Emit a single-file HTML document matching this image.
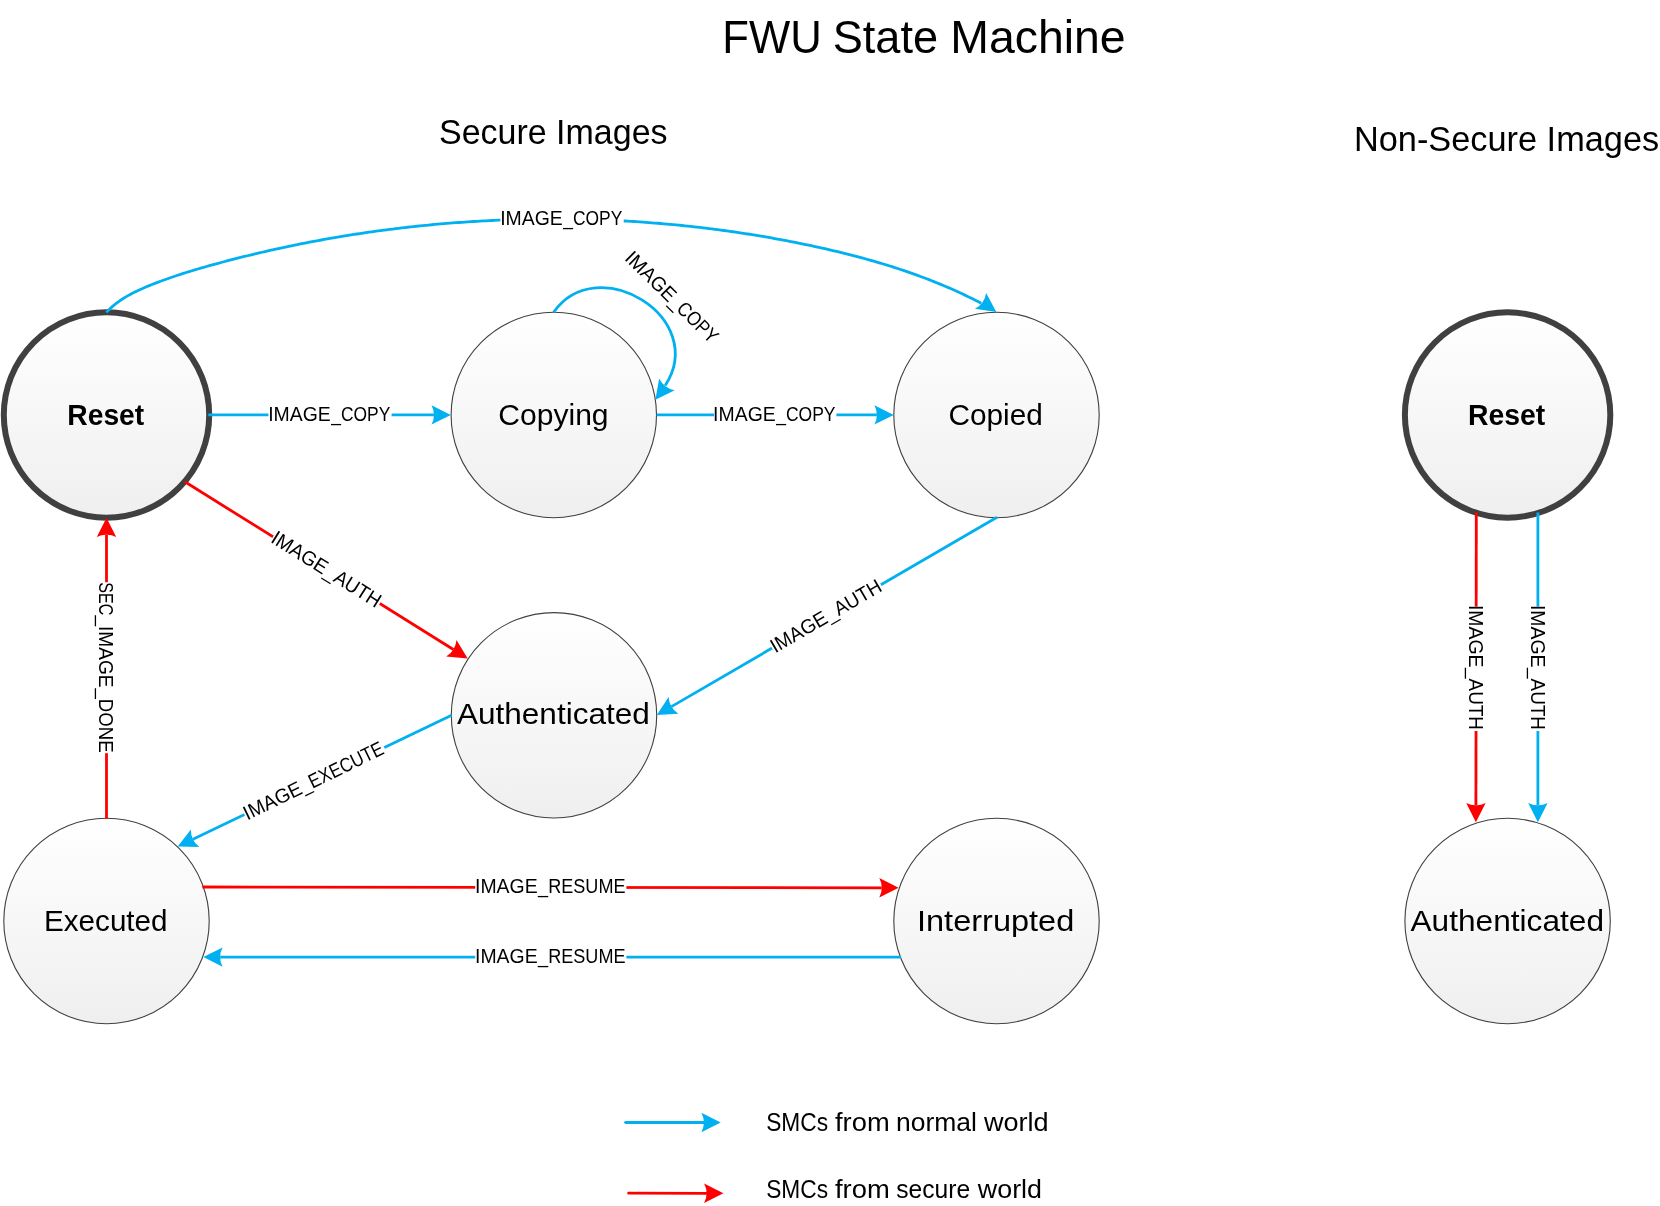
<!DOCTYPE html><html><head><meta charset="utf-8"><style>html,body{margin:0;padding:0;background:#fff}svg{display:block;will-change:transform}text{font-family:"Liberation Sans",sans-serif;fill:#000}</style></head><body>
<svg width="1660" height="1206" viewBox="0 0 1660 1206">
<defs><linearGradient id="g" x1="0" y1="0" x2="0" y2="1"><stop offset="0" stop-color="#ffffff"/><stop offset="1" stop-color="#efefef"/></linearGradient></defs>
<rect width="1660" height="1206" fill="#fff"/>
<circle cx="106.5" cy="415" r="102.7" fill="url(#g)" stroke="#404040" stroke-width="6"/>
<circle cx="553.8" cy="415" r="102.7" fill="url(#g)" stroke="#404040" stroke-width="1.1"/>
<circle cx="996.5" cy="415" r="102.7" fill="url(#g)" stroke="#404040" stroke-width="1.1"/>
<circle cx="554" cy="715.3" r="102.7" fill="url(#g)" stroke="#404040" stroke-width="1.1"/>
<circle cx="106.5" cy="921" r="102.7" fill="url(#g)" stroke="#404040" stroke-width="1.1"/>
<circle cx="996.5" cy="921" r="102.7" fill="url(#g)" stroke="#404040" stroke-width="1.1"/>
<circle cx="1507.6" cy="415" r="102.7" fill="url(#g)" stroke="#404040" stroke-width="6"/>
<circle cx="1507.6" cy="921" r="102.7" fill="url(#g)" stroke="#404040" stroke-width="1.1"/>
<path d="M450.8 414.9 L431.5 405.19 Q434.2 410.58 433.9 414.89 Q434.2 419.2 431.5 424.59 Z" fill="#00b0f0"/>
<line x1="208.3" y1="414.8" x2="433.9" y2="414.89" stroke="#00b0f0" stroke-width="2.8" stroke-linecap="butt"/>
<path d="M893.7 414.9 L874.4 405.2 Q877.1 410.59 876.8 414.9 Q877.1 419.21 874.4 424.6 Z" fill="#00b0f0"/>
<line x1="656.6" y1="414.9" x2="876.8" y2="414.9" stroke="#00b0f0" stroke-width="2.8" stroke-linecap="butt"/>
<path d="M467.7 658.5 L456.47 640.05 Q455.91 646.05 453.37 649.54 Q451.34 653.36 446.19 656.5 Z" fill="#ff0000"/>
<line x1="184.9" y1="481.8" x2="453.37" y2="649.54" stroke="#ff0000" stroke-width="2.8" stroke-linecap="butt"/>
<path d="M656.8 715.1 L678.36 713.78 Q673.32 710.48 671.41 706.61 Q668.98 703.03 668.61 697.01 Z" fill="#00b0f0"/>
<line x1="997" y1="517.3" x2="671.41" y2="706.61" stroke="#00b0f0" stroke-width="2.8" stroke-linecap="butt"/>
<path d="M177.7 846.6 L199.3 847 Q194.53 843.31 192.94 839.29 Q190.81 835.54 190.91 829.51 Z" fill="#00b0f0"/>
<line x1="451.6" y1="715.3" x2="192.94" y2="839.29" stroke="#00b0f0" stroke-width="2.8" stroke-linecap="butt"/>
<path d="M106.5 517.8 L96.8 537.1 Q102.19 534.4 106.5 534.7 Q110.81 534.4 116.2 537.1 Z" fill="#ff0000"/>
<line x1="106.5" y1="818.4" x2="106.5" y2="534.7" stroke="#ff0000" stroke-width="2.8" stroke-linecap="butt"/>
<path d="M898.6 887.8 L879.31 878.08 Q882 883.47 881.7 887.78 Q882 892.09 879.29 897.48 Z" fill="#ff0000"/>
<line x1="202.4" y1="887" x2="881.7" y2="887.78" stroke="#ff0000" stroke-width="2.8" stroke-linecap="butt"/>
<path d="M203.3 957.1 L222.6 966.8 Q219.9 961.41 220.2 957.1 Q219.9 952.79 222.6 947.4 Z" fill="#00b0f0"/>
<line x1="901.1" y1="957.1" x2="220.2" y2="957.1" stroke="#00b0f0" stroke-width="2.8" stroke-linecap="butt"/>
<path d="M1475.9 822.2 L1485.62 802.91 Q1480.23 805.61 1475.92 805.3 Q1471.61 805.59 1466.22 802.89 Z" fill="#ff0000"/>
<line x1="1476.3" y1="512.4" x2="1475.92" y2="805.3" stroke="#ff0000" stroke-width="2.8" stroke-linecap="butt"/>
<path d="M1537.9 822.2 L1547.6 802.9 Q1542.21 805.6 1537.9 805.3 Q1533.59 805.6 1528.2 802.9 Z" fill="#00b0f0"/>
<line x1="1537.9" y1="512.4" x2="1537.9" y2="805.3" stroke="#00b0f0" stroke-width="2.8" stroke-linecap="butt"/>
<path d="M720.7 1122.5 L701.4 1112.8 Q704.1 1118.19 703.8 1122.5 Q704.1 1126.81 701.4 1132.2 Z" fill="#00b0f0"/>
<line x1="625.6" y1="1122.5" x2="703.8" y2="1122.5" stroke="#00b0f0" stroke-width="2.8" stroke-linecap="round"/>
<path d="M723.4 1193.3 L704.11 1183.58 Q706.8 1188.97 706.5 1193.28 Q706.8 1197.59 704.09 1202.98 Z" fill="#ff0000"/>
<line x1="628.6" y1="1193.2" x2="706.5" y2="1193.28" stroke="#ff0000" stroke-width="2.8" stroke-linecap="round"/>
<path d="M106.29 312.39 L108.42 310.21 L110.62 308.12 L112.88 306.13 L115.20 304.23 L117.58 302.41 L120.01 300.67 L122.48 299.01 L125.01 297.43 L127.57 295.90 L130.18 294.45 L132.82 293.04 L135.49 291.70 L138.19 290.40 L140.92 289.15 L143.67 287.93 L146.45 286.76 L149.23 285.61 L152.03 284.49 L154.84 283.39 L157.66 282.32 L160.48 281.26 L163.31 280.22 L166.15 279.20 L169.00 278.20 L171.85 277.21 L174.71 276.25 L177.58 275.29 L180.45 274.36 L183.32 273.44 L186.20 272.53 L189.09 271.63 L191.98 270.75 L194.87 269.88 L197.77 269.03 L200.67 268.18 L203.58 267.34 L206.49 266.52 L209.40 265.70 L212.31 264.89 L215.22 264.09 L218.14 263.30 L221.06 262.51 L223.98 261.73 L226.90 260.96 L229.82 260.19 L232.75 259.43 L235.68 258.68 L238.60 257.94 L241.53 257.20 L244.47 256.47 L247.40 255.75 L250.33 255.04 L253.27 254.33 L256.21 253.63 L259.14 252.93 L262.09 252.25 L265.03 251.57 L267.97 250.89 L270.92 250.23 L273.86 249.57 L276.81 248.92 L279.76 248.27 L282.71 247.64 L285.66 247.01 L288.61 246.38 L291.57 245.77 L294.53 245.16 L297.48 244.56 L300.44 243.96 L303.40 243.37 L306.36 242.79 L309.32 242.22 L312.29 241.65 L315.25 241.10 L318.22 240.54 L321.19 240.00 L324.16 239.46 L327.13 238.93 L330.10 238.40 L333.07 237.89 L336.04 237.38 L339.02 236.87 L341.99 236.38 L344.97 235.89 L347.95 235.41 L350.93 234.93 L353.91 234.46 L356.89 234.00 L359.87 233.55 L362.85 233.10 L365.84 232.66 L368.82 232.23 L371.81 231.81 L374.80 231.39 L377.78 230.97 L380.77 230.57 L383.76 230.17 L386.75 229.78 L389.75 229.40 L392.74 229.02 L395.73 228.65 L398.73 228.29 L401.72 227.93 L404.72 227.58 L407.71 227.24 L410.71 226.91 L413.71 226.58 L416.71 226.26 L419.71 225.94 L422.71 225.64 L425.71 225.34 L428.72 225.04 L431.72 224.76 L434.72 224.48 L437.73 224.21 L440.73 223.94 L443.74 223.68 L446.75 223.43 L449.75 223.19 L452.76 222.95 L455.77 222.72 L458.78 222.50 L461.79 222.28 L464.80 222.07 L467.81 221.87 L470.82 221.67 L473.83 221.48 L476.85 221.30 L479.86 221.12 L482.87 220.96 L485.89 220.80 L488.90 220.64 L491.92 220.49 L494.93 220.35 L497.95 220.22 L500.96 220.09 L503.98 219.97 L507.00 219.86 L510.01 219.76 L513.03 219.66 L516.05 219.57 L519.07 219.48 L522.08 219.40 L525.10 219.33 L528.12 219.27 L531.14 219.21 L534.16 219.16 L537.18 219.12 L540.20 219.09 L543.22 219.06 L546.24 219.04 L549.25 219.02 L552.27 219.02 L555.29 219.02 L558.31 219.02 L561.33 219.04 L564.35 219.06 L567.37 219.09 L570.39 219.12 L573.41 219.17 L576.43 219.22 L579.45 219.27 L582.47 219.34 L585.49 219.41 L588.51 219.49 L591.52 219.57 L594.54 219.67 L597.56 219.76 L600.58 219.87 L603.60 219.99 L606.61 220.11 L609.63 220.24 L612.65 220.37 L615.66 220.51 L618.68 220.66 L621.70 220.82 L624.71 220.99 L627.73 221.16 L630.74 221.34 L633.76 221.52 L636.77 221.72 L639.78 221.92 L642.80 222.12 L645.81 222.34 L648.82 222.56 L651.83 222.79 L654.84 223.03 L657.85 223.27 L660.86 223.52 L663.87 223.78 L666.88 224.05 L669.88 224.32 L672.89 224.60 L675.90 224.89 L678.90 225.18 L681.91 225.49 L684.91 225.80 L687.91 226.11 L690.92 226.44 L693.92 226.77 L696.92 227.11 L699.92 227.46 L702.92 227.81 L705.92 228.17 L708.91 228.54 L711.91 228.92 L714.90 229.30 L717.90 229.69 L720.89 230.09 L723.88 230.49 L726.88 230.91 L729.87 231.33 L732.86 231.75 L735.84 232.19 L738.83 232.63 L741.82 233.08 L744.80 233.54 L747.79 234.00 L750.77 234.48 L753.75 234.96 L756.73 235.44 L759.71 235.94 L762.69 236.44 L765.66 236.95 L768.64 237.47 L771.61 237.99 L774.59 238.52 L777.56 239.06 L780.53 239.61 L783.50 240.16 L786.46 240.73 L789.43 241.30 L792.39 241.87 L795.36 242.46 L798.32 243.05 L801.28 243.65 L804.24 244.26 L807.20 244.87 L810.15 245.49 L813.10 246.12 L816.06 246.76 L819.01 247.41 L821.96 248.06 L824.90 248.73 L827.85 249.40 L830.79 250.08 L833.73 250.77 L836.67 251.46 L839.60 252.17 L842.54 252.89 L845.47 253.61 L848.40 254.35 L851.32 255.10 L854.24 255.85 L857.16 256.62 L860.08 257.40 L862.99 258.18 L865.90 258.98 L868.80 259.79 L871.71 260.61 L874.61 261.44 L877.50 262.29 L880.39 263.14 L883.28 264.01 L886.16 264.89 L889.04 265.78 L891.92 266.68 L894.79 267.60 L897.66 268.53 L900.52 269.47 L903.38 270.43 L906.23 271.39 L909.08 272.38 L911.93 273.37 L914.76 274.38 L917.60 275.40 L920.43 276.44 L923.25 277.49 L926.07 278.56 L928.88 279.64 L931.69 280.74 L934.49 281.85 L937.29 282.97 L940.08 284.12 L942.87 285.27 L945.65 286.44 L948.42 287.63 L951.19 288.84 L953.95 290.06 L956.70 291.30 L959.45 292.55 L962.19 293.82 L964.93 295.11 L967.66 296.41 L970.38 297.74 L973.10 299.08 L975.80 300.43 L978.51 301.81 L981.20 303.20" fill="none" stroke="#00b0f0" stroke-width="2.8" stroke-linejoin="round"/>
<path d="M996.3 312 L986.17 292.92 Q985.26 298.88 982.52 302.22 Q980.27 305.91 974.95 308.74 Z" fill="#00b0f0"/>
<path d="M553.6 312.3 C597.38 249.88 709.15 317.74 665.2 385.6" fill="none" stroke="#00b0f0" stroke-width="2.8"/>
<path d="M655.4 399.8 L674.72 390.14 Q668.79 389.08 665.51 386.26 Q661.88 383.92 659.17 378.53 Z" fill="#00b0f0"/>
<rect x="268.4" y="404" width="123.2" height="22" fill="#fff"/>
<rect x="714" y="404" width="122.4" height="22" fill="#fff"/>
<rect x="500.4" y="208" width="123.3" height="22" fill="#fff"/>
<rect x="475.2" y="876" width="151.2" height="22" fill="#fff"/>
<rect x="475.2" y="946" width="151.2" height="22" fill="#fff"/>
<rect x="94" y="582.2" width="24" height="171" fill="#fff"/>
<rect x="1465" y="606.6" width="24" height="124.4" fill="#fff"/>
<rect x="1527" y="606.6" width="24" height="124.4" fill="#fff"/>
<rect transform="translate(326.65 569.75) rotate(32.2)" x="-63" y="-10" width="126" height="20" fill="#fff"/>
<rect transform="translate(826.6 616.6) rotate(-30.3)" x="-63" y="-10" width="126" height="20" fill="#fff"/>
<rect transform="translate(314.25 780.8) rotate(-26)" x="-77.5" y="-10" width="155" height="20" fill="#fff"/>
<text transform="translate(725.9 52.6) scale(0.9564 1)" x="-3.77" y="0" font-size="45.673">FWU</text>
<text transform="translate(834.8 52.6) scale(0.9878 1)" x="-2.06" y="0" font-size="45.673">State</text>
<text transform="translate(954.1 52.6) scale(1.0161 1)" x="-3.77" y="0" font-size="45.673">Machine</text>
<text transform="translate(440.5 143.9) scale(0.9501 1)" x="-1.61" y="0" font-size="35.782">Secure Images</text>
<text transform="translate(1356.8 151.4) scale(0.9711 1)" x="-2.92" y="0" font-size="35.345">Non-Secure Images</text>
<text transform="translate(69.2 424.6) scale(0.9376 1)" x="-2.03" y="0" font-size="30.109" font-weight="bold">Reset</text>
<text transform="translate(499.8 424.5) scale(0.9987 1)" x="-1.51" y="0" font-size="30.109">Copying</text>
<text transform="translate(949.9 424.5) scale(0.9904 1)" x="-1.51" y="0" font-size="30.109">Copied</text>
<text transform="translate(457 724.4) scale(1.0485 1)" x="-0.08" y="0" font-size="30.109">Authenticated</text>
<text transform="translate(46.4 930.8) scale(0.9850 1)" x="-2.48" y="0" font-size="30.109">Executed</text>
<text transform="translate(920 930.8) scale(1.0808 1)" x="-2.79" y="0" font-size="30.109">Interrupted</text>
<text transform="translate(1470 424.5) scale(0.9414 1)" x="-2.03" y="0" font-size="30.109" font-weight="bold">Reset</text>
<text transform="translate(1410.6 930.8) scale(1.0513 1)" x="-0.08" y="0" font-size="30.109">Authenticated</text>
<text transform="translate(270 420.9) rotate(0) translate(0 0) scale(0.9681 1)" x="-1.86" y="0" font-size="20.073">IMAGE</text>
<text transform="translate(270 420.9) rotate(0) translate(61.05 0) scale(0.8668 1)" x="0.3" y="0" font-size="20.073">_COPY</text>
<text transform="translate(714.9 420.8) rotate(0) translate(0 0) scale(0.9681 1)" x="-1.86" y="0" font-size="20.073">IMAGE</text>
<text transform="translate(714.9 420.8) rotate(0) translate(61.05 0) scale(0.8712 1)" x="0.3" y="0" font-size="20.073">_COPY</text>
<text transform="translate(502 225.3) rotate(0) translate(0 0) scale(0.9681 1)" x="-1.86" y="0" font-size="20.073">IMAGE</text>
<text transform="translate(502 225.3) rotate(0) translate(61.05 0) scale(0.8668 1)" x="0.3" y="0" font-size="20.073">_COPY</text>
<text transform="translate(476.8 893.3) rotate(0) translate(0 0) scale(0.9681 1)" x="-1.86" y="0" font-size="20.073">IMAGE</text>
<text transform="translate(476.8 893.3) rotate(0) translate(61.05 0) scale(0.9010 1)" x="0.3" y="0" font-size="20.073">_RESUME</text>
<text transform="translate(476.8 963.3) rotate(0) translate(0 0) scale(0.9681 1)" x="-1.86" y="0" font-size="20.073">IMAGE</text>
<text transform="translate(476.8 963.3) rotate(0) translate(61.05 0) scale(0.9010 1)" x="0.3" y="0" font-size="20.073">_RESUME</text>
<text transform="translate(767.2 1131) scale(0.9091 1)" x="-1.13" y="0" font-size="25.018">SMCs</text>
<text transform="translate(835.4 1131) scale(1.0930 1)" x="-0.38" y="0" font-size="25.018">from</text>
<text transform="translate(897.8 1131) scale(1.0586 1)" x="-1.69" y="0" font-size="25.018">normal</text>
<text transform="translate(983.9 1131) scale(1.0819 1)" x="0.06" y="0" font-size="25.018">world</text>
<text transform="translate(767.2 1197.5) scale(0.9091 1)" x="-1.13" y="0" font-size="25.018">SMCs</text>
<text transform="translate(835.4 1197.5) scale(1.0950 1)" x="-0.38" y="0" font-size="25.018">from</text>
<text transform="translate(896.9 1197.5) scale(0.9849 1)" x="-0.69" y="0" font-size="25.018">secure</text>
<text transform="translate(977.8 1197.5) scale(1.0733 1)" x="0.06" y="0" font-size="25.018">world</text>
<text transform="translate(625.05 260.45) rotate(44.5) translate(0 0) scale(0.9681 1)" x="-1.86" y="0" font-size="20.073">IMAGE</text>
<text transform="translate(625.05 260.45) rotate(44.5) translate(61.05 0) scale(0.8565 1)" x="0.3" y="0" font-size="20.073">_COPY</text>
<text transform="translate(271.31 542.53) rotate(32.2) translate(0 0) scale(0.9681 1)" x="-1.86" y="0" font-size="20.073">IMAGE</text>
<text transform="translate(271.31 542.53) rotate(32.2) translate(61.05 0) scale(0.9459 1)" x="0.3" y="0" font-size="20.073">_AUTH</text>
<text transform="translate(776.71 652.63) rotate(-30.3) translate(0 0) scale(0.9681 1)" x="-1.86" y="0" font-size="20.073">IMAGE</text>
<text transform="translate(776.71 652.63) rotate(-30.3) translate(61.05 0) scale(0.9459 1)" x="0.3" y="0" font-size="20.073">_AUTH</text>
<text transform="translate(248.97 819.7) rotate(-26) translate(0 0) scale(0.9681 1)" x="-1.86" y="0" font-size="20.073">IMAGE</text>
<text transform="translate(248.97 819.7) rotate(-26) translate(61.05 0) scale(0.8532 1)" x="0.3" y="0" font-size="20.073">_EXECUTE</text>
<text transform="translate(99.1 582.9) rotate(90) translate(0 0) scale(0.7875 1)" x="-0.92" y="0" font-size="20.509">SEC</text>
<text transform="translate(99.1 582.9) rotate(90) translate(32.3 0) scale(0.9290 1)" x="0.31" y="0" font-size="20.509">_IMAGE</text>
<text transform="translate(99.1 582.9) rotate(90) translate(105.3 0) scale(0.9088 1)" x="0.31" y="0" font-size="20.509">_DONE</text>
<text transform="translate(1469.2 606.7) rotate(90) translate(0 0) scale(0.9752 1)" x="-1.84" y="0" font-size="19.927">IMAGE</text>
<text transform="translate(1469.2 606.7) rotate(90) translate(61.05 0) scale(0.9497 1)" x="0.3" y="0" font-size="19.927">_AUTH</text>
<text transform="translate(1531 606.7) rotate(90) translate(0 0) scale(0.9752 1)" x="-1.84" y="0" font-size="19.927">IMAGE</text>
<text transform="translate(1531 606.7) rotate(90) translate(61.05 0) scale(0.9497 1)" x="0.3" y="0" font-size="19.927">_AUTH</text>
</svg></body></html>
